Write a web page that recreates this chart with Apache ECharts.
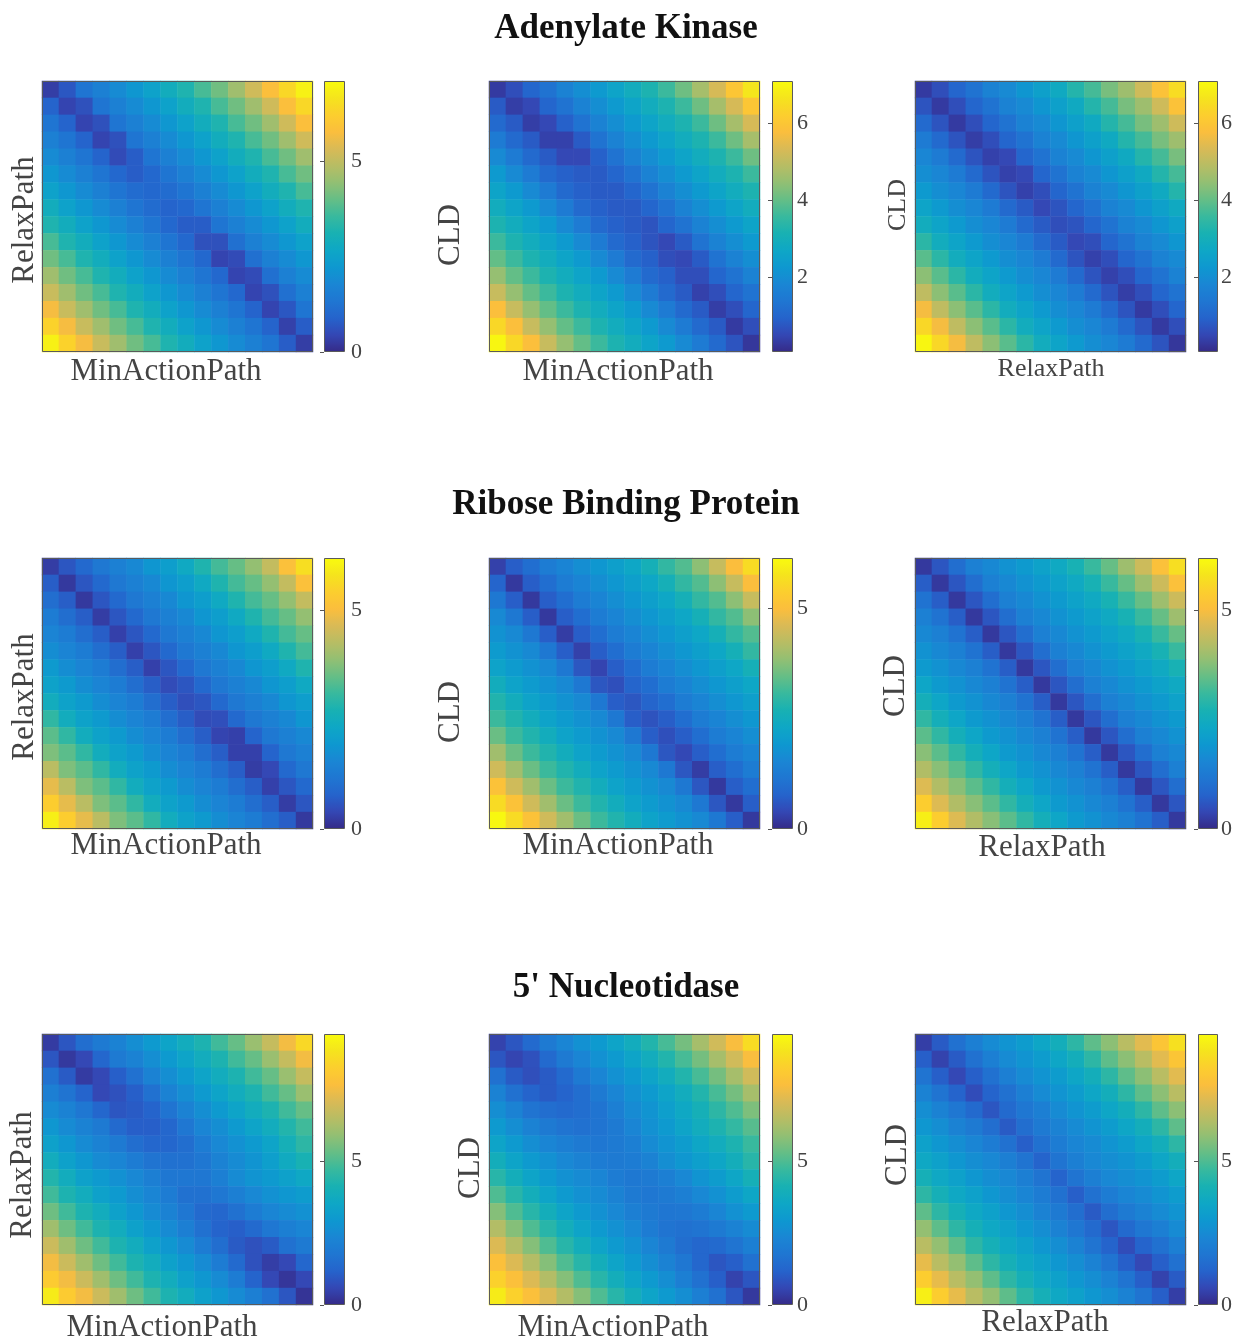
<!DOCTYPE html>
<html>
<head>
<meta charset="utf-8">
<script src="https://cdn.jsdelivr.net/npm/echarts@6/dist/echarts.min.js"></script>
<style>
  html, body { margin: 0; padding: 0; background: #fff; }
  #chart { width: 1240px; height: 1343px; }
</style>
</head>
<body>
<div id="chart"></div>
<script>
// titles of the three rows, axis names of the three columns
const rowTitles = ['Adenylate Kinase', 'Ribose Binding Protein', "5' Nucleotidase"]
const xNames = ['MinActionPath', 'MinActionPath', 'RelaxPath']
const yNames = ['RelaxPath', 'CLD', 'CLD']

// distance matrices, 16 x 16, row 0 = top of the panel
const akRelaxVsMin = [
  [0.3, 0.7, 1.3, 1.6, 1.9, 2.2, 2.5, 2.9, 3.2, 3.7, 4.1, 4.6, 5.2, 5.8, 6.4, 6.9],
  [0.9, 0.4, 0.6, 1.3, 1.6, 1.9, 2.2, 2.5, 2.9, 3.2, 3.7, 4.1, 4.6, 5.2, 5.8, 6.4],
  [1.3, 0.9, 0.4, 0.6, 1.3, 1.6, 1.9, 2.2, 2.5, 2.9, 3.2, 3.7, 4.1, 4.6, 5.2, 5.8],
  [1.6, 1.3, 0.9, 0.4, 0.6, 1.3, 1.6, 1.9, 2.2, 2.5, 2.9, 3.2, 3.7, 4.1, 4.6, 5.2],
  [1.9, 1.6, 1.3, 0.9, 0.5, 0.8, 1.3, 1.6, 1.9, 2.2, 2.5, 2.9, 3.2, 3.7, 4.1, 4.6],
  [2.2, 1.9, 1.6, 1.3, 1.0, 0.8, 1.0, 1.3, 1.6, 1.9, 2.2, 2.5, 2.9, 3.2, 3.7, 4.1],
  [2.5, 2.2, 1.9, 1.6, 1.3, 1.1, 1.0, 1.1, 1.3, 1.6, 1.9, 2.2, 2.5, 2.9, 3.2, 3.7],
  [2.9, 2.5, 2.2, 1.9, 1.6, 1.3, 1.1, 0.9, 1.0, 1.3, 1.6, 1.9, 2.2, 2.5, 2.9, 3.2],
  [3.2, 2.9, 2.5, 2.2, 1.9, 1.6, 1.3, 1.0, 0.8, 0.8, 1.3, 1.6, 1.9, 2.2, 2.5, 2.9],
  [3.7, 3.2, 2.9, 2.5, 2.2, 1.9, 1.6, 1.3, 1.0, 0.6, 0.6, 1.2, 1.6, 1.9, 2.2, 2.5],
  [4.1, 3.7, 3.2, 2.9, 2.5, 2.2, 1.9, 1.6, 1.3, 1.0, 0.4, 0.5, 1.2, 1.6, 1.9, 2.2],
  [4.6, 4.1, 3.7, 3.2, 2.9, 2.5, 2.2, 1.9, 1.6, 1.3, 1.0, 0.4, 0.5, 1.2, 1.6, 1.9],
  [5.1, 4.6, 4.1, 3.7, 3.2, 2.9, 2.5, 2.2, 1.9, 1.6, 1.3, 1.0, 0.4, 0.6, 1.2, 1.6],
  [5.7, 5.1, 4.6, 4.1, 3.7, 3.2, 2.9, 2.5, 2.2, 1.9, 1.6, 1.3, 0.9, 0.4, 0.7, 1.3],
  [6.3, 5.7, 5.1, 4.6, 4.1, 3.7, 3.2, 2.9, 2.5, 2.2, 1.9, 1.6, 1.3, 0.9, 0.35, 0.8],
  [6.9, 6.3, 5.7, 5.1, 4.6, 4.1, 3.7, 3.2, 2.9, 2.5, 2.2, 1.9, 1.6, 1.3, 0.8, 0.3],
]
const akCldVsMin = [
  [0.3, 0.6, 1.0, 1.3, 1.7, 2.0, 2.3, 2.6, 2.9, 3.2, 3.6, 4.1, 4.7, 5.3, 6.0, 6.7],
  [0.8, 0.35, 0.5, 1.0, 1.3, 1.7, 2.0, 2.3, 2.6, 2.9, 3.2, 3.6, 4.1, 4.7, 5.3, 6.0],
  [1.1, 0.8, 0.35, 0.5, 0.9, 1.3, 1.7, 2.0, 2.3, 2.6, 2.9, 3.2, 3.6, 4.1, 4.7, 5.3],
  [1.5, 1.1, 0.8, 0.4, 0.4, 0.8, 1.3, 1.7, 2.0, 2.3, 2.6, 2.9, 3.2, 3.6, 4.1, 4.7],
  [1.9, 1.5, 1.1, 0.8, 0.5, 0.5, 0.9, 1.3, 1.7, 2.0, 2.3, 2.6, 2.9, 3.2, 3.6, 4.1],
  [2.3, 1.9, 1.5, 1.1, 0.9, 0.8, 0.8, 1.0, 1.3, 1.7, 2.0, 2.3, 2.6, 2.9, 3.2, 3.6],
  [2.6, 2.3, 1.9, 1.5, 1.1, 0.9, 0.8, 0.8, 1.0, 1.3, 1.7, 2.0, 2.3, 2.6, 2.9, 3.2],
  [2.9, 2.6, 2.3, 1.9, 1.5, 1.1, 0.9, 0.8, 0.8, 1.0, 1.3, 1.7, 2.0, 2.3, 2.6, 2.9],
  [3.2, 2.9, 2.6, 2.3, 1.9, 1.5, 1.1, 0.9, 0.8, 0.7, 1.0, 1.3, 1.7, 2.0, 2.3, 2.6],
  [3.6, 3.2, 2.9, 2.6, 2.3, 1.9, 1.5, 1.1, 0.9, 0.7, 0.5, 0.8, 1.3, 1.7, 2.0, 2.3],
  [4.0, 3.6, 3.2, 2.9, 2.6, 2.3, 1.9, 1.5, 1.1, 0.9, 0.6, 0.5, 0.8, 1.3, 1.7, 2.0],
  [4.5, 4.0, 3.6, 3.2, 2.9, 2.6, 2.3, 1.9, 1.5, 1.1, 0.9, 0.6, 0.6, 1.0, 1.3, 1.7],
  [5.1, 4.5, 4.0, 3.6, 3.2, 2.9, 2.6, 2.3, 1.9, 1.5, 1.1, 0.8, 0.4, 0.6, 1.0, 1.3],
  [5.8, 5.1, 4.5, 4.0, 3.6, 3.2, 2.9, 2.6, 2.3, 1.9, 1.5, 1.1, 0.8, 0.35, 0.6, 1.0],
  [6.4, 5.8, 5.1, 4.5, 4.0, 3.6, 3.2, 2.9, 2.6, 2.3, 1.9, 1.5, 1.1, 0.8, 0.3, 0.6],
  [7.0, 6.4, 5.8, 5.1, 4.5, 4.0, 3.6, 3.2, 2.9, 2.6, 2.3, 1.9, 1.5, 1.1, 0.7, 0.25],
]
const akCldVsRelax = [
  [0.3, 0.6, 1.0, 1.3, 1.7, 1.9, 2.2, 2.5, 2.8, 3.3, 3.7, 4.2, 4.6, 5.2, 5.9, 6.5],
  [0.7, 0.3, 0.6, 1.0, 1.3, 1.7, 1.9, 2.2, 2.5, 2.8, 3.3, 3.7, 4.2, 4.6, 5.2, 5.9],
  [1.1, 0.7, 0.3, 0.6, 1.0, 1.3, 1.7, 1.9, 2.2, 2.5, 2.8, 3.3, 3.7, 4.2, 4.6, 5.2],
  [1.5, 1.1, 0.7, 0.35, 0.6, 1.0, 1.3, 1.7, 1.9, 2.2, 2.5, 2.8, 3.3, 3.7, 4.2, 4.6],
  [1.8, 1.5, 1.1, 0.7, 0.4, 0.5, 1.0, 1.3, 1.7, 1.9, 2.2, 2.5, 2.8, 3.3, 3.7, 4.2],
  [2.0, 1.8, 1.5, 1.1, 0.7, 0.4, 0.5, 1.0, 1.3, 1.7, 1.9, 2.2, 2.5, 2.8, 3.3, 3.7],
  [2.3, 2.0, 1.8, 1.5, 1.1, 0.7, 0.4, 0.6, 1.0, 1.3, 1.7, 1.9, 2.2, 2.5, 2.8, 3.3],
  [2.6, 2.3, 2.0, 1.8, 1.5, 1.1, 0.8, 0.5, 0.7, 1.0, 1.3, 1.7, 1.9, 2.2, 2.5, 2.8],
  [2.9, 2.6, 2.3, 2.0, 1.8, 1.5, 1.1, 0.8, 0.6, 0.7, 1.0, 1.3, 1.7, 1.9, 2.2, 2.5],
  [3.4, 2.9, 2.6, 2.3, 2.0, 1.8, 1.5, 1.1, 0.8, 0.5, 0.6, 1.0, 1.3, 1.7, 1.9, 2.2],
  [3.9, 3.4, 2.9, 2.6, 2.3, 2.0, 1.8, 1.5, 1.1, 0.7, 0.4, 0.6, 1.0, 1.3, 1.7, 1.9],
  [4.4, 3.9, 3.4, 2.9, 2.6, 2.3, 2.0, 1.8, 1.5, 1.1, 0.7, 0.4, 0.6, 1.0, 1.3, 1.7],
  [5.0, 4.4, 3.9, 3.4, 2.9, 2.6, 2.3, 2.0, 1.8, 1.5, 1.1, 0.7, 0.35, 0.6, 1.0, 1.3],
  [5.7, 5.0, 4.4, 3.9, 3.4, 2.9, 2.6, 2.3, 2.0, 1.8, 1.5, 1.1, 0.7, 0.3, 0.6, 1.0],
  [6.4, 5.7, 5.0, 4.4, 3.9, 3.4, 2.9, 2.6, 2.3, 2.0, 1.8, 1.5, 1.1, 0.7, 0.3, 0.6],
  [7.0, 6.4, 5.7, 5.0, 4.4, 3.9, 3.4, 2.9, 2.6, 2.3, 2.0, 1.8, 1.5, 1.1, 0.7, 0.25],
]
const rbpRelaxVsMin = [
  [0.25, 0.6, 0.9, 1.2, 1.4, 1.6, 1.9, 2.1, 2.4, 2.8, 3.2, 3.5, 3.9, 4.4, 5.1, 5.7],
  [0.7, 0.2, 0.6, 0.9, 1.2, 1.4, 1.6, 1.9, 2.1, 2.4, 2.8, 3.2, 3.5, 3.9, 4.4, 5.1],
  [1.0, 0.7, 0.2, 0.6, 0.9, 1.2, 1.4, 1.6, 1.9, 2.1, 2.4, 2.8, 3.2, 3.5, 3.9, 4.4],
  [1.3, 1.0, 0.7, 0.25, 0.6, 0.9, 1.2, 1.4, 1.6, 1.9, 2.1, 2.4, 2.8, 3.2, 3.5, 3.9],
  [1.5, 1.3, 1.0, 0.7, 0.3, 0.6, 0.9, 1.2, 1.4, 1.6, 1.9, 2.1, 2.4, 2.8, 3.2, 3.5],
  [1.7, 1.5, 1.3, 1.0, 0.7, 0.3, 0.6, 0.9, 1.2, 1.4, 1.6, 1.9, 2.1, 2.4, 2.8, 3.2],
  [2.0, 1.7, 1.5, 1.3, 1.0, 0.7, 0.3, 0.6, 0.9, 1.2, 1.4, 1.6, 1.9, 2.1, 2.4, 2.8],
  [2.2, 2.0, 1.7, 1.5, 1.3, 1.0, 0.7, 0.45, 0.6, 0.9, 1.2, 1.4, 1.6, 1.9, 2.1, 2.4],
  [2.5, 2.2, 2.0, 1.7, 1.5, 1.3, 1.0, 0.7, 0.5, 0.6, 0.9, 1.2, 1.4, 1.6, 1.9, 2.1],
  [3.0, 2.5, 2.2, 2.0, 1.7, 1.5, 1.3, 1.0, 0.7, 0.45, 0.5, 0.9, 1.2, 1.4, 1.6, 1.9],
  [3.4, 3.0, 2.5, 2.2, 2.0, 1.7, 1.5, 1.3, 1.0, 0.7, 0.35, 0.3, 0.8, 1.2, 1.4, 1.6],
  [3.7, 3.4, 3.0, 2.5, 2.2, 2.0, 1.7, 1.5, 1.3, 1.0, 0.7, 0.3, 0.3, 0.8, 1.2, 1.4],
  [4.3, 3.7, 3.4, 3.0, 2.5, 2.2, 2.0, 1.7, 1.5, 1.3, 1.0, 0.7, 0.25, 0.4, 0.9, 1.2],
  [4.8, 4.3, 3.7, 3.4, 3.0, 2.5, 2.2, 2.0, 1.7, 1.5, 1.3, 1.0, 0.7, 0.3, 0.6, 0.9],
  [5.4, 4.8, 4.3, 3.7, 3.4, 3.0, 2.5, 2.2, 2.0, 1.7, 1.5, 1.3, 1.0, 0.7, 0.25, 0.6],
  [6.0, 5.4, 4.8, 4.3, 3.7, 3.4, 3.0, 2.5, 2.2, 2.0, 1.7, 1.5, 1.3, 1.0, 0.7, 0.2],
]
const rbpCldVsMin = [
  [0.3, 0.7, 1.0, 1.3, 1.5, 1.7, 1.9, 2.1, 2.3, 2.6, 3.0, 3.3, 3.8, 4.4, 5.0, 5.6],
  [0.8, 0.2, 0.7, 1.0, 1.3, 1.5, 1.7, 1.9, 2.1, 2.3, 2.6, 3.0, 3.3, 3.8, 4.4, 5.0],
  [1.2, 0.7, 0.2, 0.7, 1.0, 1.3, 1.5, 1.7, 1.9, 2.1, 2.3, 2.6, 3.0, 3.3, 3.8, 4.4],
  [1.6, 1.2, 0.7, 0.2, 0.7, 1.0, 1.3, 1.5, 1.7, 1.9, 2.1, 2.3, 2.6, 3.0, 3.3, 3.8],
  [1.8, 1.6, 1.2, 0.7, 0.25, 0.7, 1.0, 1.3, 1.5, 1.7, 1.9, 2.1, 2.3, 2.6, 3.0, 3.3],
  [2.0, 1.8, 1.6, 1.2, 0.7, 0.3, 0.7, 1.0, 1.3, 1.5, 1.7, 1.9, 2.1, 2.3, 2.6, 3.0],
  [2.2, 2.0, 1.8, 1.6, 1.2, 0.6, 0.35, 0.7, 1.0, 1.3, 1.5, 1.7, 1.9, 2.1, 2.3, 2.6],
  [2.5, 2.2, 2.0, 1.8, 1.6, 1.2, 0.6, 0.5, 0.8, 1.0, 1.3, 1.5, 1.7, 1.9, 2.1, 2.3],
  [2.8, 2.5, 2.2, 2.0, 1.8, 1.6, 1.2, 0.7, 0.6, 0.8, 1.0, 1.3, 1.5, 1.7, 1.9, 2.1],
  [3.1, 2.8, 2.5, 2.2, 2.0, 1.8, 1.6, 1.2, 0.7, 0.55, 0.7, 1.0, 1.3, 1.5, 1.7, 1.9],
  [3.5, 3.1, 2.8, 2.5, 2.2, 2.0, 1.8, 1.6, 1.2, 0.7, 0.5, 0.7, 1.0, 1.3, 1.5, 1.7],
  [4.0, 3.5, 3.1, 2.8, 2.5, 2.2, 2.0, 1.8, 1.6, 1.2, 0.6, 0.4, 0.7, 1.0, 1.3, 1.5],
  [4.5, 4.0, 3.5, 3.1, 2.8, 2.5, 2.2, 2.0, 1.8, 1.6, 1.2, 0.6, 0.25, 0.7, 1.0, 1.3],
  [5.1, 4.5, 4.0, 3.5, 3.1, 2.8, 2.5, 2.2, 2.0, 1.8, 1.6, 1.2, 0.6, 0.2, 0.7, 1.0],
  [5.6, 5.1, 4.5, 4.0, 3.5, 3.1, 2.8, 2.5, 2.2, 2.0, 1.8, 1.6, 1.2, 0.6, 0.2, 0.7],
  [6.1, 5.6, 5.1, 4.5, 4.0, 3.5, 3.1, 2.8, 2.5, 2.2, 2.0, 1.8, 1.6, 1.2, 0.7, 0.2],
]
const rbpCldVsRelax = [
  [0.2, 0.6, 1.0, 1.4, 1.6, 1.8, 2.0, 2.2, 2.4, 2.7, 3.1, 3.5, 4.0, 4.5, 5.1, 5.7],
  [0.7, 0.2, 0.6, 1.0, 1.4, 1.6, 1.8, 2.0, 2.2, 2.4, 2.7, 3.1, 3.5, 4.0, 4.5, 5.1],
  [1.1, 0.7, 0.2, 0.6, 1.0, 1.4, 1.6, 1.8, 2.0, 2.2, 2.4, 2.7, 3.1, 3.5, 4.0, 4.5],
  [1.4, 1.1, 0.7, 0.2, 0.6, 1.0, 1.4, 1.6, 1.8, 2.0, 2.2, 2.4, 2.7, 3.1, 3.5, 4.0],
  [1.6, 1.4, 1.1, 0.7, 0.2, 0.6, 1.0, 1.4, 1.6, 1.8, 2.0, 2.2, 2.4, 2.7, 3.1, 3.5],
  [1.8, 1.6, 1.4, 1.1, 0.7, 0.2, 0.6, 1.0, 1.4, 1.6, 1.8, 2.0, 2.2, 2.4, 2.7, 3.1],
  [2.0, 1.8, 1.6, 1.4, 1.1, 0.7, 0.2, 0.6, 1.0, 1.4, 1.6, 1.8, 2.0, 2.2, 2.4, 2.7],
  [2.3, 2.0, 1.8, 1.6, 1.4, 1.1, 0.7, 0.2, 0.6, 1.0, 1.4, 1.6, 1.8, 2.0, 2.2, 2.4],
  [2.6, 2.3, 2.0, 1.8, 1.6, 1.4, 1.1, 0.7, 0.2, 0.6, 1.0, 1.4, 1.6, 1.8, 2.0, 2.2],
  [3.0, 2.6, 2.3, 2.0, 1.8, 1.6, 1.4, 1.1, 0.7, 0.2, 0.6, 1.0, 1.4, 1.6, 1.8, 2.0],
  [3.4, 3.0, 2.6, 2.3, 2.0, 1.8, 1.6, 1.4, 1.1, 0.7, 0.2, 0.6, 1.0, 1.4, 1.6, 1.8],
  [3.8, 3.4, 3.0, 2.6, 2.3, 2.0, 1.8, 1.6, 1.4, 1.1, 0.7, 0.2, 0.6, 1.0, 1.4, 1.6],
  [4.2, 3.8, 3.4, 3.0, 2.6, 2.3, 2.0, 1.8, 1.6, 1.4, 1.1, 0.7, 0.2, 0.6, 1.0, 1.4],
  [4.7, 4.2, 3.8, 3.4, 3.0, 2.6, 2.3, 2.0, 1.8, 1.6, 1.4, 1.1, 0.7, 0.2, 0.6, 1.0],
  [5.4, 4.7, 4.2, 3.8, 3.4, 3.0, 2.6, 2.3, 2.0, 1.8, 1.6, 1.4, 1.1, 0.7, 0.2, 0.6],
  [6.0, 5.4, 4.7, 4.2, 3.8, 3.4, 3.0, 2.6, 2.3, 2.0, 1.8, 1.6, 1.4, 1.1, 0.7, 0.2],
]
const ntRelaxVsMin = [
  [0.35, 0.9, 1.5, 1.9, 2.2, 2.6, 3.0, 3.4, 3.8, 4.2, 4.8, 5.3, 6.0, 6.7, 7.5, 8.5],
  [0.9, 0.3, 0.6, 1.3, 1.9, 2.2, 2.6, 3.0, 3.4, 3.8, 4.2, 4.8, 5.3, 6.0, 6.7, 7.5],
  [1.6, 1.0, 0.35, 0.6, 1.1, 1.6, 2.2, 2.6, 3.0, 3.4, 3.8, 4.2, 4.8, 5.3, 6.0, 6.7],
  [2.1, 1.7, 1.2, 0.6, 0.8, 1.1, 1.6, 2.2, 2.6, 3.0, 3.4, 3.8, 4.2, 4.8, 5.3, 6.0],
  [2.5, 2.2, 1.8, 1.3, 0.9, 1.0, 1.2, 1.7, 2.2, 2.6, 3.0, 3.4, 3.8, 4.2, 4.8, 5.3],
  [2.9, 2.5, 2.2, 1.9, 1.4, 1.1, 1.1, 1.3, 1.8, 2.3, 2.6, 3.0, 3.4, 3.8, 4.3, 4.8],
  [3.3, 2.9, 2.5, 2.2, 1.9, 1.5, 1.3, 1.3, 1.5, 2.0, 2.4, 2.7, 3.0, 3.4, 4.0, 4.5],
  [3.8, 3.3, 2.9, 2.5, 2.3, 2.0, 1.7, 1.6, 1.6, 1.8, 2.2, 2.5, 2.8, 3.2, 3.7, 4.1],
  [4.3, 3.8, 3.3, 3.0, 2.7, 2.4, 2.1, 1.8, 1.8, 1.8, 2.1, 2.5, 2.8, 3.0, 3.3, 3.6],
  [4.8, 4.2, 3.8, 3.3, 3.0, 2.6, 2.3, 2.0, 1.6, 1.6, 1.8, 2.1, 2.4, 2.7, 2.9, 3.1],
  [5.4, 4.8, 4.2, 3.8, 3.3, 2.9, 2.5, 2.2, 1.8, 1.4, 1.3, 1.6, 2.0, 2.3, 2.5, 2.7],
  [6.1, 5.4, 4.8, 4.2, 3.8, 3.3, 2.9, 2.5, 2.1, 1.6, 1.2, 1.1, 1.4, 1.8, 2.1, 2.3],
  [6.8, 6.1, 5.4, 4.8, 4.2, 3.8, 3.3, 2.9, 2.5, 2.0, 1.5, 1.0, 0.8, 1.0, 1.6, 1.9],
  [7.5, 6.8, 6.1, 5.4, 4.8, 4.2, 3.8, 3.3, 2.9, 2.5, 2.0, 1.4, 0.8, 0.4, 0.6, 1.3],
  [8.1, 7.5, 6.8, 6.1, 5.4, 4.8, 4.2, 3.8, 3.3, 2.9, 2.5, 2.0, 1.2, 0.6, 0.25, 0.6],
  [9.0, 8.1, 7.5, 6.8, 6.1, 5.4, 4.8, 4.2, 3.8, 3.3, 2.9, 2.5, 2.1, 1.6, 0.9, 0.2],
]
const ntCldVsMin = [
  [0.5, 0.9, 1.4, 1.9, 2.3, 2.7, 3.0, 3.4, 3.8, 4.3, 4.9, 5.5, 6.2, 6.9, 7.6, 8.6],
  [0.9, 0.55, 0.8, 1.4, 1.9, 2.3, 2.7, 3.0, 3.4, 3.8, 4.3, 4.9, 5.5, 6.2, 6.9, 7.6],
  [1.6, 1.0, 0.75, 1.0, 1.4, 1.9, 2.3, 2.7, 3.0, 3.4, 3.8, 4.3, 4.9, 5.5, 6.2, 6.9],
  [2.2, 1.6, 1.2, 1.0, 1.2, 1.5, 1.9, 2.3, 2.7, 3.0, 3.4, 3.8, 4.3, 4.9, 5.5, 6.2],
  [2.6, 2.2, 1.7, 1.5, 1.4, 1.5, 1.7, 2.1, 2.5, 2.8, 3.2, 3.6, 4.0, 4.5, 5.0, 5.6],
  [3.0, 2.6, 2.2, 1.9, 1.7, 1.6, 1.7, 1.9, 2.3, 2.7, 3.0, 3.4, 3.8, 4.2, 4.6, 5.1],
  [3.4, 3.0, 2.6, 2.3, 2.1, 1.9, 1.8, 1.9, 2.1, 2.5, 2.8, 3.1, 3.5, 3.8, 4.2, 4.7],
  [3.9, 3.4, 3.0, 2.7, 2.4, 2.2, 2.0, 1.9, 2.0, 2.2, 2.6, 2.9, 3.2, 3.5, 3.9, 4.4],
  [4.4, 3.9, 3.4, 3.0, 2.7, 2.5, 2.3, 2.0, 1.85, 1.9, 2.1, 2.4, 2.8, 3.1, 3.5, 4.0],
  [5.0, 4.4, 3.9, 3.4, 3.0, 2.7, 2.5, 2.2, 1.9, 1.8, 1.9, 2.1, 2.4, 2.7, 3.1, 3.5],
  [5.7, 5.0, 4.4, 3.9, 3.4, 3.0, 2.7, 2.4, 2.1, 1.9, 1.75, 1.8, 2.0, 2.3, 2.7, 3.0],
  [6.4, 5.7, 5.0, 4.4, 3.9, 3.4, 3.0, 2.7, 2.4, 2.0, 1.7, 1.6, 1.7, 1.9, 2.2, 2.5],
  [7.1, 6.4, 5.7, 5.0, 4.4, 3.9, 3.4, 3.0, 2.7, 2.3, 1.9, 1.5, 1.3, 1.4, 1.7, 2.1],
  [7.7, 7.1, 6.4, 5.7, 5.0, 4.4, 3.9, 3.4, 3.0, 2.6, 2.2, 1.8, 1.3, 0.9, 1.1, 1.6],
  [8.3, 7.7, 7.1, 6.4, 5.7, 5.0, 4.4, 3.9, 3.4, 3.0, 2.6, 2.1, 1.6, 1.1, 0.5, 0.9],
  [9.0, 8.3, 7.7, 7.1, 6.4, 5.7, 5.0, 4.4, 3.9, 3.4, 3.0, 2.6, 2.1, 1.6, 0.9, 0.3],
]
const ntCldVsRelax = [
  [0.4, 1.0, 1.6, 2.1, 2.5, 2.8, 3.1, 3.5, 3.9, 4.5, 5.2, 5.8, 6.5, 7.2, 7.9, 8.7],
  [1.1, 0.5, 1.0, 1.6, 2.1, 2.5, 2.8, 3.1, 3.5, 3.9, 4.5, 5.2, 5.8, 6.5, 7.2, 7.9],
  [1.7, 1.1, 0.6, 1.1, 1.6, 2.1, 2.5, 2.8, 3.1, 3.5, 3.9, 4.5, 5.2, 5.8, 6.5, 7.2],
  [2.2, 1.7, 1.2, 0.7, 1.2, 1.6, 2.1, 2.5, 2.8, 3.1, 3.5, 3.9, 4.5, 5.2, 5.8, 6.5],
  [2.6, 2.2, 1.8, 1.4, 0.9, 1.4, 1.8, 2.1, 2.5, 2.8, 3.1, 3.5, 3.9, 4.5, 5.2, 5.8],
  [2.9, 2.6, 2.2, 1.9, 1.5, 1.0, 1.5, 1.9, 2.2, 2.5, 2.8, 3.1, 3.5, 3.9, 4.5, 5.2],
  [3.3, 2.9, 2.6, 2.3, 2.0, 1.6, 1.1, 1.6, 2.0, 2.3, 2.5, 2.8, 3.1, 3.5, 3.9, 4.5],
  [3.6, 3.3, 2.9, 2.6, 2.4, 2.1, 1.7, 1.2, 1.7, 2.1, 2.4, 2.6, 2.8, 3.1, 3.5, 3.9],
  [4.0, 3.6, 3.3, 2.9, 2.6, 2.4, 2.1, 1.7, 1.2, 1.7, 2.1, 2.4, 2.6, 2.8, 3.1, 3.5],
  [4.5, 4.0, 3.6, 3.3, 2.9, 2.6, 2.3, 2.0, 1.6, 1.1, 1.6, 2.0, 2.3, 2.5, 2.8, 3.1],
  [5.2, 4.5, 4.0, 3.6, 3.3, 2.9, 2.6, 2.2, 1.9, 1.5, 1.0, 1.5, 1.9, 2.2, 2.5, 2.8],
  [5.9, 5.2, 4.5, 4.0, 3.6, 3.3, 2.9, 2.6, 2.2, 1.8, 1.4, 0.9, 1.4, 1.8, 2.1, 2.5],
  [6.5, 5.9, 5.2, 4.5, 4.0, 3.6, 3.3, 2.9, 2.6, 2.2, 1.7, 1.2, 0.7, 1.2, 1.6, 2.1],
  [7.3, 6.5, 5.9, 5.2, 4.5, 4.0, 3.6, 3.3, 2.9, 2.6, 2.2, 1.7, 1.1, 0.6, 1.1, 1.6],
  [8.2, 7.3, 6.5, 5.9, 5.2, 4.5, 4.0, 3.6, 3.3, 2.9, 2.6, 2.2, 1.7, 1.1, 0.5, 1.0],
  [9.1, 8.2, 7.3, 6.5, 5.9, 5.2, 4.5, 4.0, 3.6, 3.3, 2.9, 2.6, 2.2, 1.7, 1.1, 0.4],
]

// colour limits and colorbar ticks of the nine panels (row by row)
const colorLimits = [
  [0, 7.1], [0.05, 7.1], [0.05, 7.1],
  [0, 6.2], [0, 6.15], [0, 6.2],
  [0, 9.4], [0, 9.4], [0, 9.4],
]
const colorTicks = [
  [0, 5], [2, 4, 6], [2, 4, 6],
  [0, 5], [0, 5], [0, 5],
  [0, 5], [0, 5], [0, 5],
]

const matrices = [
  akRelaxVsMin, akCldVsMin, akCldVsRelax,
  rbpRelaxVsMin, rbpCldVsMin, rbpCldVsRelax,
  ntRelaxVsMin, ntCldVsMin, ntCldVsRelax,
]

// parula, sampled every 1/16 (blues toned down a little, as in the figure)
const parula = [
  '#352a87', '#3447b4', '#2563cc', '#1f76d2', '#1a86d4', '#0e98d0',
  '#0ea7c6', '#18b1b3', '#38b99e', '#65be86', '#92bf73', '#b7bd64',
  '#d9ba56', '#fbbe3d', '#fcce2e', '#f5e41d', '#f9fb0e',
]

// layout
const FONT = '"Liberation Serif", "DejaVu Serif", serif'
const SIZE = 271
const panelX = [42, 489, 915]
const panelY = [81, 558, 1034]
const barX = [324, 772, 1198]
const barW = [21, 21, 20]
const barLabelGap = [6, 4, 3]
const titleTop = [11, 487, 970]
// centres of the axis labels [x, y, fontSize]
const xLabelAt = [
  [166, 372, 31], [618, 372, 31], [1051, 369, 26],
  [166, 846, 31], [618, 846, 31], [1042, 848, 31],
  [162, 1328, 31], [613, 1328, 31], [1045, 1323, 31],
]
const yLabelAt = [
  [25, 220, 31], [451, 235, 31], [898, 205, 26],
  [25, 697, 31], [451, 712, 31], [896, 686, 31],
  [23, 1175, 31], [471, 1168, 31], [898, 1155, 31],
]

const chart = echarts.init(document.getElementById('chart'))

const grid = []
const xAxis = []
const yAxis = []
const series = []
const visualMap = []
const graphic = []

matrices.forEach((m, i) => {
  const r = Math.floor(i / 3)
  const c = i % 3
  const idx = m[0].map((_, k) => k)

  // heatmap panel
  grid.push({ left: panelX[c], top: panelY[r], width: SIZE, height: SIZE })
  xAxis.push({ type: 'category', gridIndex: i, data: idx, show: false })
  yAxis.push({ type: 'category', gridIndex: i, data: idx, inverse: true, show: false })

  const cells = []
  m.forEach((row, y) => row.forEach((v, x) => cells.push([x, y, v])))
  series.push({
    type: 'heatmap',
    xAxisIndex: i,
    yAxisIndex: i,
    data: cells,
    itemStyle: { borderWidth: 0 },
    emphasis: { disabled: true },
  })

  visualMap.push({
    type: 'continuous',
    seriesIndex: i,
    min: colorLimits[i][0],
    max: colorLimits[i][1],
    calculable: false,
    hoverLink: false,
    orient: 'vertical',
    left: barX[c],
    top: panelY[r],
    itemWidth: barW[c],
    itemHeight: SIZE,
    padding: 0,
    inRange: { color: parula },
  })

  // frames
  graphic.push({
    type: 'rect', silent: true, z: 100,
    shape: { x: panelX[c] + 0.5, y: panelY[r] + 0.5, width: SIZE - 1, height: SIZE - 1 },
    style: { fill: 'rgba(0,0,0,0)', stroke: '#5a5a5a', lineWidth: 1 },
  })
  graphic.push({
    type: 'rect', silent: true, z: 100,
    shape: { x: barX[c] + 0.5, y: panelY[r] + 0.5, width: barW[c] - 1, height: SIZE - 1 },
    style: { fill: 'rgba(0,0,0,0)', stroke: '#5a5a5a', lineWidth: 1 },
  })

  // axis labels
  graphic.push({
    type: 'text', silent: true, z: 100,
    x: xLabelAt[i][0], y: xLabelAt[i][1],
    style: {
      text: xNames[c], fontFamily: FONT, fontSize: xLabelAt[i][2],
      fill: '#444', align: 'center', verticalAlign: 'middle',
    },
  })
  graphic.push({
    type: 'text', silent: true, z: 100,
    x: yLabelAt[i][0], y: yLabelAt[i][1], rotation: Math.PI / 2,
    style: {
      text: yNames[c], fontFamily: FONT, fontSize: yLabelAt[i][2],
      fill: '#444', align: 'center', verticalAlign: 'middle',
    },
  })
})

// colorbar tick axes
matrices.forEach((m, i) => {
  const r = Math.floor(i / 3)
  const c = i % 3
  const gi = matrices.length + i
  grid.push({ left: barX[c], top: panelY[r], width: barW[c], height: SIZE })
  xAxis.push({ type: 'value', gridIndex: gi, show: false })
  yAxis.push({
    type: 'value',
    gridIndex: gi,
    position: 'right',
    min: colorLimits[i][0],
    max: colorLimits[i][1],
    axisLine: { show: false },
    splitLine: { show: false },
    axisTick: {
      inside: true,
      length: 4,
      customValues: colorTicks[i],
      lineStyle: { color: '#555' },
    },
    axisLabel: {
      customValues: colorTicks[i],
      margin: barLabelGap[c],
      fontFamily: FONT,
      fontSize: 22,
      color: '#444',
    },
  })
})

const option = {
  backgroundColor: '#fff',
  animation: false,
  title: rowTitles.map((t, r) => ({
    text: t,
    left: 626,
    top: titleTop[r],
    textAlign: 'center',
    padding: 0,
    textStyle: { fontFamily: FONT, fontSize: 35, fontWeight: 'bold', color: '#111' },
  })),
  grid,
  xAxis,
  yAxis,
  visualMap,
  series,
  graphic,
}

chart.setOption(option)
</script>
</body>
</html>
